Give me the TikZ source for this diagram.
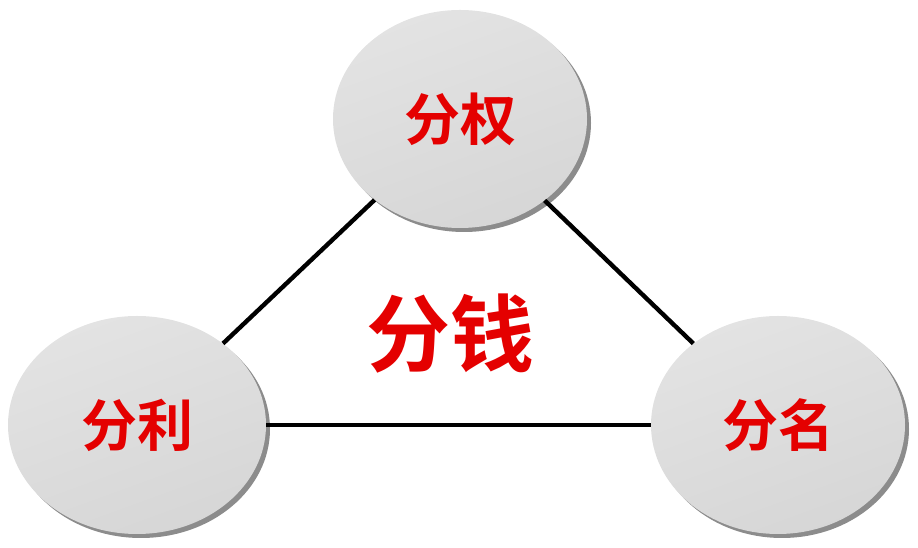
\documentclass[tikz,border=0pt]{standalone}
\usepackage{fontspec}
\newfontfamily\cjk{Noto Sans CJK SC Bold}
\usepackage{tikz}
\usetikzlibrary{shapes.geometric,shadows}
\definecolor{labelred}{RGB}{228,0,0}

\begin{document}
\begin{tikzpicture}[x=1pt,y=1pt,
		part/.style={ellipse, inner sep=0pt, minimum width=254pt, minimum height=218pt,
			top color=gray!22, bottom color=gray!32, shading angle=20,
			drop shadow={shadow xshift=4pt, shadow yshift=-4pt, fill=gray!90, opacity=1},
			text=labelred, font=\cjk\fontsize{56pt}{56pt}\selectfont},
		link/.style={line width=4.4pt, black}]
	\useasboundingbox (0,0) rectangle (918,548);
	\node[part] (quan) at (460,429) {分权};
	\node[part, minimum width=258pt] (li) at (137,123) {分利};
	\node[part] (ming) at (778,123) {分名};
	\node[text=labelred, font=\cjk\fontsize{84pt}{84pt}\selectfont] (qian) at (450,214) {分钱};
	\draw[link] (li) -- (quan);
	\draw[link] (quan) -- (ming);
	\draw[link] (li) -- (ming);
\end{tikzpicture}
\end{document}
